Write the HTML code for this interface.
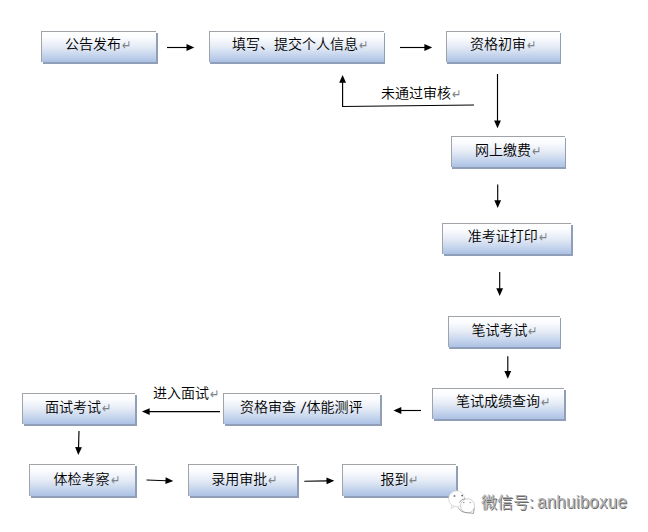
<!DOCTYPE html>
<html lang="zh-CN">
<head>
<meta charset="utf-8">
<title>流程图</title>
<style>
html,body{margin:0;padding:0;background:#fff;}
body{width:648px;height:532px;position:relative;overflow:hidden;
 font-family:"Liberation Sans","Noto Sans CJK SC",sans-serif;color:#000;}
.b{position:absolute;box-sizing:border-box;border:1px solid #a0a3a8;border-right:0;border-bottom:0;
 background:linear-gradient(to bottom,#ffffff 0%,#fbfcfe 18%,#e6ecf6 48%,#c7d6ed 76%,#acc1e4 100%);
 box-shadow:2px 2px 0 #919eb7;}
.t{position:absolute;font-size:14px;line-height:16px;white-space:nowrap;font-weight:350;color:#000;}
.r{color:#7d8288;font-family:"DejaVu Sans",sans-serif;font-size:12px;line-height:16px;display:inline-block;transform:translateX(0.5px) scale(0.95,1.2);}
.sp{display:inline-block;width:3.5px;}
.sl{display:inline-block;width:7px;text-align:center;transform:skewX(-9deg) scale(1.05,1.12);}
svg{position:absolute;left:0;top:0;}
.wm{position:absolute;left:481px;top:493px;font-size:16px;line-height:20px;color:#b2b2b2;white-space:nowrap;font-weight:350;
 text-shadow:1px 1px 0 #6a6a6a,-1px -1px 1px #fff;}
.wm b{font-weight:400;font-size:17px;}
.wm i{font-style:normal;font-weight:400;font-size:17px;letter-spacing:0.22px;margin-left:-1.5px;display:inline-block;transform:scaleY(1.1);transform-origin:50% 78%;}
</style>
</head>
<body>
<div class="b" style="left:41px;top:31px;width:115px;height:31px"><div class="t" style="left:23px;top:4px">公告发布<span class="r">↵</span></div></div>
<div class="b" style="left:209px;top:31px;width:175px;height:31px;box-shadow:1px 2px 0 #919eb7"><div class="t" style="left:22px;top:4px">填写、提交个人信息<span class="r">↵</span></div></div>
<div class="b" style="left:446px;top:31px;width:114px;height:31px;box-shadow:1px 2px 0 #919eb7"><div class="t" style="left:23px;top:4px">资格初审<span class="r">↵</span></div></div>
<div class="b" style="left:451px;top:136px;width:114px;height:31px;box-shadow:1px 2px 0 #919eb7"><div class="t" style="left:23px;top:5px">网上缴费<span class="r">↵</span></div></div>
<div class="b" style="left:442px;top:223px;width:129px;height:31px"><div class="t" style="left:24.7px;top:4px">准考证打印<span class="r">↵</span></div></div>
<div class="b" style="left:448px;top:316px;width:112px;height:31px;box-shadow:1px 2px 0 #919eb7"><div class="t" style="left:22.4px;top:5px">笔试考试<span class="r">↵</span></div></div>
<div class="b" style="left:432px;top:388px;width:132px;height:31px"><div class="t" style="left:23px;top:4px">笔试成绩查询<span class="r">↵</span></div></div>
<div class="b" style="left:223px;top:393px;width:157px;height:31px"><div class="t" style="left:16px;top:5px">资格审查<span class="sp"> </span><span class="sl">/</span>体能测评</div></div>
<div class="b" style="left:22px;top:393px;width:113px;height:31px"><div class="t" style="left:22px;top:5px">面试考试<span class="r">↵</span></div></div>
<div class="b" style="left:29px;top:464px;width:106px;height:32px"><div class="t" style="left:23.6px;top:6px">体检考察<span class="r">↵</span></div></div>
<div class="b" style="left:188px;top:464px;width:109px;height:32px"><div class="t" style="left:22.3px;top:6px">录用审批<span class="r">↵</span></div></div>
<div class="b" style="left:342px;top:464px;width:114px;height:32px"><div class="t" style="left:37.4px;top:6px">报到<span class="r">↵</span></div></div>
<div class="t" style="left:381px;top:85px">未通过审核<span class="r">↵</span></div>
<div class="t" style="left:153px;top:385px">进入面试<span class="r">↵</span></div>
<svg width="648" height="532" viewBox="0 0 648 532">
 <g stroke="#000" stroke-width="1.15" fill="none">
  <line x1="167" y1="47.5" x2="187.50" y2="47.50"/>
  <line x1="400" y1="47.5" x2="425.40" y2="47.50"/>
  <line x1="497.5" y1="74" x2="497.50" y2="121.50"/>
  <line x1="497.7" y1="184.5" x2="497.70" y2="201.20"/>
  <line x1="499.7" y1="272" x2="499.70" y2="289.20"/>
  <line x1="507.8" y1="356.3" x2="507.80" y2="372.00"/>
  <line x1="421" y1="410.5" x2="400.30" y2="410.50"/>
  <line x1="220" y1="411.6" x2="148.70" y2="411.60"/>
  <line x1="79.0" y1="431" x2="78.50" y2="448.20"/>
  <line x1="146.5" y1="480" x2="166.50" y2="480.75"/>
  <line x1="304.3" y1="481.3" x2="327.50" y2="480.84"/>
  <polyline points="474,105.0 342.6,106.5 342.6,82"/>
 </g>
 <g fill="#000">
  <polygon points="194.3,47.5 186.50,50.90 186.50,44.10"/>
  <polygon points="432.2,47.5 424.40,50.90 424.40,44.10"/>
  <polygon points="497.5,128.3 494.10,120.50 500.90,120.50"/>
  <polygon points="497.7,208 494.30,200.20 501.10,200.20"/>
  <polygon points="499.7,296 496.30,288.20 503.10,288.20"/>
  <polygon points="507.8,378.8 504.40,371.00 511.20,371.00"/>
  <polygon points="393.5,410.5 401.30,407.10 401.30,413.90"/>
  <polygon points="141.9,411.6 149.70,408.20 149.70,415.00"/>
  <polygon points="78.3,455 75.13,447.10 81.93,447.30"/>
  <polygon points="173.3,481 165.38,484.11 165.63,477.31"/>
  <polygon points="334.3,480.7 326.57,484.26 326.43,477.46"/>
  <polygon points="342.6,75 339.20000000000005,82.8 346.0,82.8"/>
 </g>
</svg>
<svg width="648" height="532" viewBox="0 0 648 532">
 <circle cx="456.6" cy="498.8" r="8" fill="#fff" stroke="#cfcfcf" stroke-width="0.7"/>
 <path d="M451.8 505.2 L451 508.6 L454.6 506.6 Z" fill="#fff" stroke="#c4c4c4" stroke-width="0.6"/>
 <circle cx="467.6" cy="505.8" r="7" fill="#fff" stroke="#bdbdbd" stroke-width="0.7"/>
 <path d="M459.3 502.6 A7 7 0 0 1 465.2 498.6" fill="none" stroke="#8a8a8a" stroke-width="0.8"/>
 <path d="M458.2 507.6 Q461 512.6 467.6 512.8 Q471.5 512.8 473.3 513.6 L474.3 508.4" fill="none" stroke="#8a8a8a" stroke-width="0.8"/>
 <circle cx="454.5" cy="496.1" r="1" fill="#7a7a7a"/><circle cx="462.1" cy="495.6" r="0.9" fill="#555"/>
 <circle cx="463.8" cy="502.5" r="0.8" fill="#999"/><circle cx="470.2" cy="502.5" r="0.8" fill="#aaa"/>
</svg>
<div class="wm">微信号<b>: </b><i>anhuiboxue</i></div>
</body>
</html>
